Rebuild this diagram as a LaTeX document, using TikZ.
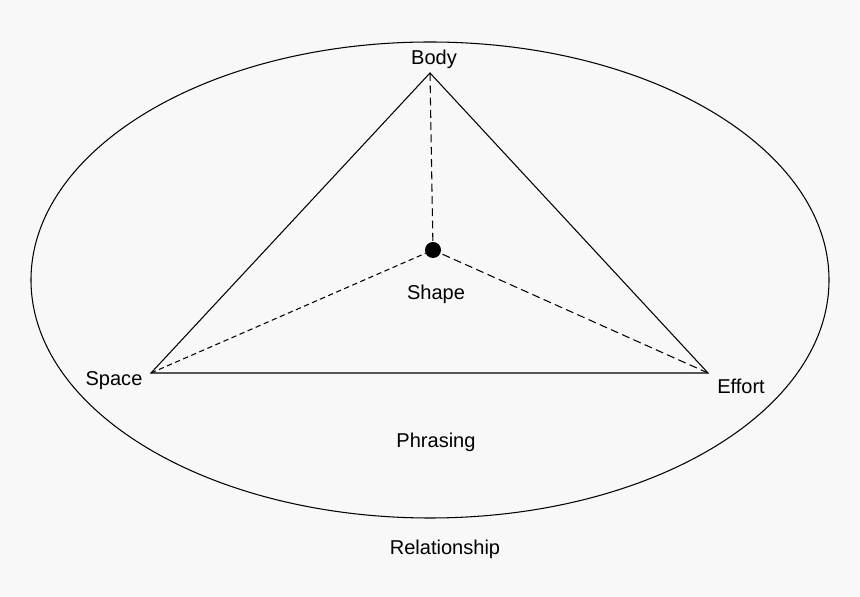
\documentclass[tikz,border=0pt]{standalone}
\usepackage{fontspec}
\setmainfont{Liberation Sans}
\usetikzlibrary{positioning, calc}
\tikzset{
  label/.style={font=\fontsize{11.4}{13}\selectfont, text=black, inner sep=0pt},
  edge/.style={line width=0.6pt, black},
  link/.style={line width=0.6pt, black, dash pattern=on 4.5pt off 2.5pt},
  shortlink/.style={line width=0.6pt, black, dash pattern=on 3pt off 2pt}
}

\begin{document}
\begin{tikzpicture}[x=0.02cm, y=-0.02cm]
        % Fondo y bordes
        \fill[fill={rgb,255:red,248;green,248;blue,248}] (0,0) rectangle (860,597);
        \useasboundingbox (0,0) rectangle (860,597);

        % Elipse exterior
        \draw[edge] (430,280) ellipse [x radius=399, y radius=238];

        % Vertices del triangulo
        \coordinate (top) at (430,73);
        \coordinate (left) at (151,373);
        \coordinate (right) at (708,373);
        \coordinate (centre) at (433,250);

        % Triangulo
        \draw[edge] (left) -- (top) -- (right) -- cycle;

        % Lineas discontinuas al centro
        \draw[link] (top) -- (centre);
        \draw[link] (right) -- (centre);
        \draw[shortlink] (left) -- (centre);
        \fill (centre) circle [radius=8];

        % Textos
        \node[label] (body) at (434,59) {Body};
        \node[label] (shape) at (436,294) {Shape};
        \node[label] (space) at (114,381) {Space};
        \node[label] (effort) at (741,386) {Effort};
        \node[label] (phrasing) at (436,442) {Phrasing};
        \node[label] (relationship) at (445,549) {Relationship};
    \end{tikzpicture}
\end{document}
